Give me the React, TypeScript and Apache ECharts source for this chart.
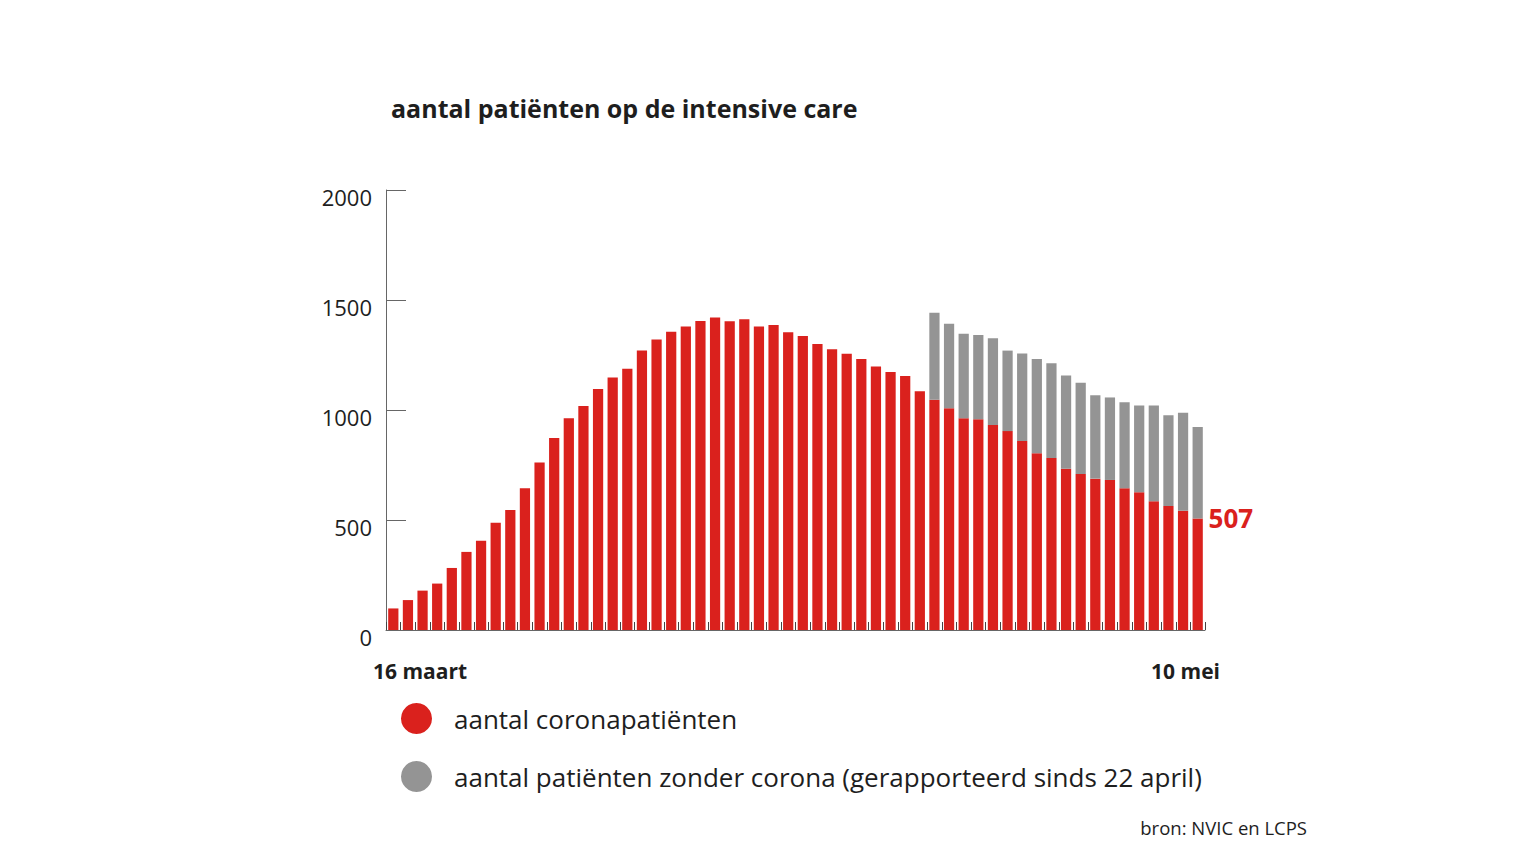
import React, { useEffect, useRef } from "react";
import * as echarts from "echarts";

const categories = [
  "16 mrt", "17 mrt", "18 mrt", "19 mrt", "20 mrt", "21 mrt", "22 mrt", "23 mrt",
  "24 mrt", "25 mrt", "26 mrt", "27 mrt", "28 mrt", "29 mrt", "30 mrt", "31 mrt",
  "1 apr", "2 apr", "3 apr", "4 apr", "5 apr", "6 apr", "7 apr", "8 apr",
  "9 apr", "10 apr", "11 apr", "12 apr", "13 apr", "14 apr", "15 apr", "16 apr",
  "17 apr", "18 apr", "19 apr", "20 apr", "21 apr", "22 apr", "23 apr", "24 apr",
  "25 apr", "26 apr", "27 apr", "28 apr", "29 apr", "30 apr", "1 mei", "2 mei",
  "3 mei", "4 mei", "5 mei", "6 mei", "7 mei", "8 mei", "9 mei", "10 mei",
];

const coronaPatients = [
  98, 136, 179, 211, 282, 355, 406, 488,
  545, 644, 761, 873, 962, 1018, 1095, 1148,
  1188, 1270, 1320, 1356, 1380, 1404, 1420, 1403,
  1412, 1379, 1386, 1353, 1336, 1300, 1276, 1256,
  1232, 1198, 1173, 1155, 1085, 1047, 1008, 962,
  958, 932, 904, 859, 803, 782, 733, 709,
  688, 682, 644, 626, 585, 564, 542, 507,
];

const nonCoronaPatients = [
  null, null, null, null, null, null, null, null,
  null, null, null, null, null, null, null, null,
  null, null, null, null, null, null, null, null,
  null, null, null, null, null, null, null, null,
  null, null, null, null, null, 395, 384, 385,
  383, 394, 366, 398, 429, 430, 424, 415,
  379, 375, 391, 394, 436, 412, 446, 416,
];

const yTicks = { min: 0, max: 2000, interval: 500 };

const TITLE = "aantal patiënten op de intensive care";
const SERIES_RED = "aantal coronapatiënten";
const SERIES_GRAY = "aantal patiënten zonder corona (gerapporteerd sinds 22 april)";
const X_START = "16 maart";
const X_END = "10 mei";
const SOURCE = "bron: NVIC en LCPS";

const RED = "#da211d";
const GRAY = "#949494";
const TEXT = "#1e1e1e";
const AXIS = "#666666";
const FONT = "'Open Sans', Lato, sans-serif";

export default function App() {
  const ref = useRef<HTMLDivElement>(null);

  useEffect(() => {
    if (!ref.current) return;
    const chart = echarts.init(ref.current, undefined, { renderer: "svg" });
    const lastIdx = coronaPatients.length - 1;
    const redData = coronaPatients.map((v, i) =>
      i === lastIdx
        ? {
            value: v,
            label: {
              show: true,
              position: [16, 0],
              align: "left",
              verticalAlign: "middle",
              formatter: String(v),
              color: RED,
              fontSize: 26,
              fontWeight: "bold",
              fontFamily: FONT,
            },
          }
        : v
    );

    chart.setOption({
      animation: false,
      backgroundColor: "#ffffff",
      textStyle: { fontFamily: FONT },
      title: {
        text: TITLE,
        left: 391,
        top: 95,
        padding: 0,
        textStyle: { fontSize: 25, fontWeight: "bold", color: TEXT, fontFamily: FONT },
      },
      legend: {
        orient: "vertical",
        left: 401,
        top: 703,
        padding: 0,
        itemWidth: 31,
        itemHeight: 31,
        itemGap: 27,
        icon: "circle",
        selectedMode: false,
        data: [SERIES_RED, SERIES_GRAY],
        textStyle: {
          fontSize: 26,
          color: TEXT,
          fontFamily: FONT,
          padding: [0, 0, 0, 17],
        },
      },
      grid: { left: 386, right: 331, top: 190, bottom: 234, containLabel: false },
      xAxis: {
        type: "category",
        data: categories,
        boundaryGap: true,
        axisLine: { show: true, lineStyle: { color: AXIS, width: 1 } },
        axisTick: { show: true, inside: true, length: 8, interval: 0, lineStyle: { color: "#444", width: 1 } },
        axisLabel: { show: false },
        splitLine: { show: false },
      },
      yAxis: {
        type: "value",
        min: yTicks.min,
        max: yTicks.max,
        interval: yTicks.interval,
        axisLine: { show: true, lineStyle: { color: AXIS, width: 1 } },
        axisTick: { show: true, inside: true, length: 20, lineStyle: { color: AXIS, width: 1 } },
        axisLabel: {
          show: true,
          fontSize: 22,
          color: TEXT,
          fontFamily: FONT,
          margin: 14,
          verticalAlign: "top",
          lineHeight: 14,
          formatter: (v: number) => String(v),
        },
        splitLine: { show: false },
      },
      series: [
        {
          name: SERIES_RED,
          type: "bar",
          stack: "total",
          data: redData,
          barCategoryGap: "30%",
          itemStyle: { color: RED },
        },
        {
          name: SERIES_GRAY,
          type: "bar",
          stack: "total",
          data: nonCoronaPatients,
          barCategoryGap: "30%",
          itemStyle: { color: GRAY },
        },
      ],
      graphic: [
        {
          type: "text",
          left: 373,
          top: 660,
          style: { text: X_START, fontSize: 21, fontWeight: "bold", fill: TEXT, fontFamily: FONT },
        },
        {
          type: "text",
          right: 1536 - 1220,
          top: 660,
          style: { text: X_END, fontSize: 21, fontWeight: "bold", fill: TEXT, fontFamily: FONT },
        },
        {
          type: "text",
          right: 1536 - 1307,
          top: 818,
          style: { text: SOURCE, fontSize: 18.5, fill: TEXT, fontFamily: FONT },
        },
      ],
    });

    return () => chart.dispose();
  }, []);

  return (
    <div
      ref={ref}
      style={{ position: "fixed", left: 0, top: 0, width: 1536, height: 864 }}
    />
  );
}
